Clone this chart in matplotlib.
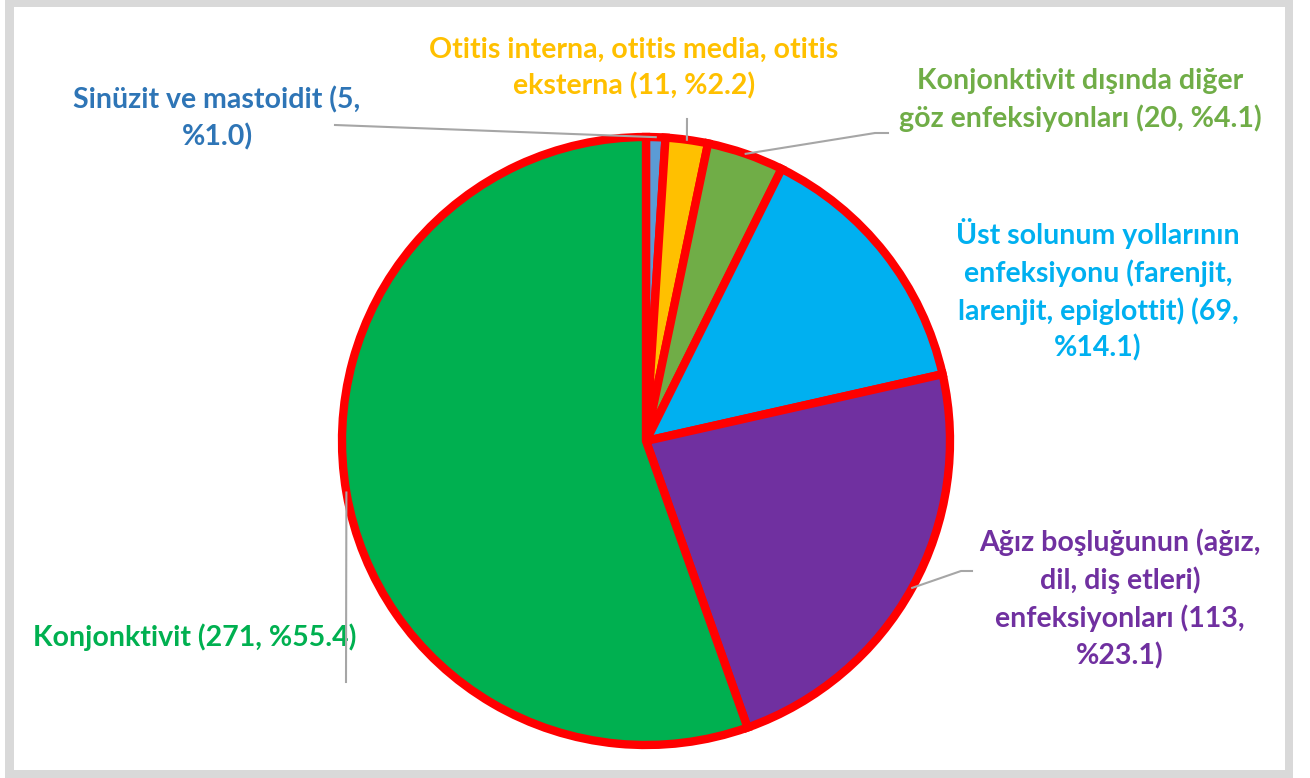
import numpy as np
import matplotlib.pyplot as plt
from matplotlib.patches import Rectangle

labels = ['Sinüzit ve mastoidit (5,\n%1.0)',
          'Otitis interna, otitis media, otitis\neksterna (11, %2.2)',
          'Konjonktivit dışında diğer\ngöz enfeksiyonları (20, %4.1)',
          'Üst solunum yollarının\nenfeksiyonu (farenjit,\nlarenjit, epiglottit) (69,\n%14.1)',
          'Ağız boşluğunun (ağız,\ndil, diş etleri)\nenfeksiyonları (113,\n%23.1)',
          'Konjonktivit (271, %55.4)']
values = [5, 11, 20, 69, 113, 271]
colors = ['#5B9BD5', '#FFC000', '#70AD47', '#00B0F0', '#7030A0', '#00B050']
text_colors = ['#2E75B6', '#FFC000', '#70AD47', '#00B0F0', '#7030A0', '#00B050']

W, H = 1310, 778
fig = plt.figure(figsize=(W / 100, H / 100), dpi=100)
fig.patch.set_facecolor('white')
ax = fig.add_axes([0, 0, 1, 1])
ax.set_xlim(0, W)
ax.set_ylim(0, H)
ax.set_aspect('equal')
ax.axis('off')
# gray frame around the chart area
ax.add_patch(Rectangle((5, -10), 1293 - 5, H + 20, facecolor='#D9D9D9', edgecolor='none', zorder=0))
ax.add_patch(Rectangle((14, H - 770), 1285 - 14, 770 - 7, facecolor='white', edgecolor='none', zorder=0))

cx, cy, r = 646, H - 441, 304
wedges, _ = ax.pie(values, colors=colors, startangle=90, counterclock=False,
                   center=(cx, cy), radius=r,
                   wedgeprops=dict(edgecolor='#FF0000', linewidth=6))
for w in wedges:
    w.set_joinstyle('miter')
ax.set_xlim(0, W)
ax.set_ylim(0, H)

# label block centers (pixel coords, y from top) and leader line end points
text_pos = [(217, 118), (634, 68), (1080, 100), (1098, 290), (1120, 599), (195, 637)]
leader_ends = [[(335, 125)], [(687, 119)], [(875, 133), (888, 133)], [],
               [(961, 571), (972, 571)], [(346, 682)]]

for w, lab, tc, (tx, ty), ends in zip(wedges, labels, text_colors, text_pos, leader_ends):
    ax.text(tx, H - ty, lab, ha='center', va='center', ma='center', color=tc,
            fontsize=20.5, fontweight='bold', family='Lato', linespacing=1.45)
    if ends:
        mid = np.deg2rad((w.theta1 + w.theta2) / 2)
        xs = [cx + r * np.cos(mid)] + [e[0] for e in ends]
        ys = [cy + r * np.sin(mid)] + [H - e[1] for e in ends]
        ax.plot(xs, ys, color='#A6A6A6', lw=1.5, zorder=5)

fig.savefig('out.png', dpi=100, facecolor=fig.get_facecolor())
